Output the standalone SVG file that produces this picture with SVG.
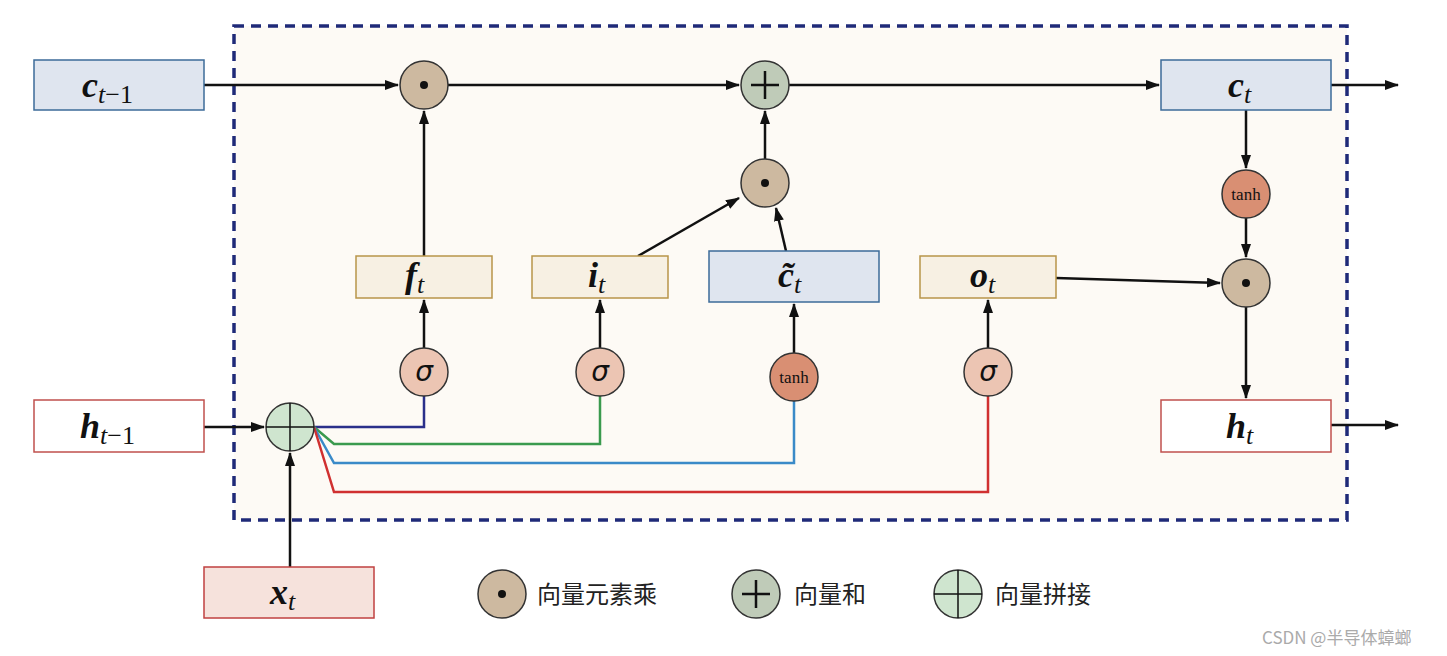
<svg xmlns="http://www.w3.org/2000/svg" width="1447" height="656" viewBox="0 0 1447 656">
<style>
.b{stroke-width:1.5}
.ln{stroke:#111;stroke-width:2.5;fill:none}
.c{stroke:#333;stroke-width:1.5}
.m{font-family:"Liberation Serif",serif;font-weight:bold;font-style:italic;font-size:36px;fill:#111}
.s{font-family:"Liberation Serif",serif;font-style:italic;font-size:26px;font-weight:normal}
.u{font-style:normal}
.t{font-family:"Liberation Serif",serif;font-size:17px;fill:#111}
.cn{font-family:"Noto Sans CJK SC",sans-serif;font-size:24px;fill:#222}
</style>
<defs><marker id="a" markerWidth="14" markerHeight="10" refX="13" refY="5" orient="auto" markerUnits="userSpaceOnUse" viewBox="0 0 14 10"><path d="M0,0L14,5L0,10Z" fill="#111"/></marker></defs>
<rect x="234" y="26" width="1113" height="494" fill="#fdfaf5" stroke="#1f2a78" stroke-width="3.5" stroke-dasharray="10,7"/>
<g id="connectors">
<path class="ln" d="M204,85H398" marker-end="url(#a)"/>
<path class="ln" d="M448,85H739" marker-end="url(#a)"/>
<path class="ln" d="M789,85H1159" marker-end="url(#a)"/>
<path class="ln" d="M1331,85H1398" marker-end="url(#a)"/>
<path class="ln" d="M1331,425H1398" marker-end="url(#a)"/>
<path class="ln" d="M424,256V111" marker-end="url(#a)"/>
<path class="ln" d="M765,159V111" marker-end="url(#a)"/>
<path class="ln" d="M638,256L739,198" marker-end="url(#a)"/>
<path class="ln" d="M786,251L776,208" marker-end="url(#a)"/>
<path class="ln" d="M1056,278L1220,283" marker-end="url(#a)"/>
<path class="ln" d="M1246,110V168" marker-end="url(#a)"/>
<path class="ln" d="M1246,218V257" marker-end="url(#a)"/>
<path class="ln" d="M1246,307V398" marker-end="url(#a)"/>
<path class="ln" d="M424,348V300" marker-end="url(#a)"/>
<path class="ln" d="M600,348V300" marker-end="url(#a)"/>
<path class="ln" d="M794,353V304" marker-end="url(#a)"/>
<path class="ln" d="M988,348V300" marker-end="url(#a)"/>
<path class="ln" d="M204,427H264" marker-end="url(#a)"/>
<path class="ln" d="M290,567V453" marker-end="url(#a)"/>
<path d="M314,427H424V396" fill="none" stroke="#2a2f8a" stroke-width="2.5"/>
<path d="M314,427L334,444H600V396" fill="none" stroke="#3a9a4e" stroke-width="2.5"/>
<path d="M314,427L334,463H794V401" fill="none" stroke="#3a8ac8" stroke-width="2.5"/>
<path d="M314,427L334,492H988V396" fill="none" stroke="#d03030" stroke-width="2.5"/>
</g>
<g id="c_prev"><rect class="b" x="34" y="60" width="170" height="50" fill="#dfe5ef" stroke="#3c6b99"/><text class="m" x="82" y="97" font-style="normal">c<tspan class="s" dy="6">t<tspan class="u">−1</tspan></tspan></text></g>
<g id="h_prev"><rect class="b" x="34" y="400" width="170" height="52" fill="#fff" stroke="#c0504d"/><text class="m" x="80" y="438">h<tspan class="s" dy="6">t<tspan class="u">−1</tspan></tspan></text></g>
<g id="x_t"><rect class="b" x="204" y="567" width="170" height="51" fill="#f6e2dc" stroke="#c04040"/><text class="m" x="270" y="604">x<tspan class="s" dy="6">t</tspan></text></g>
<g id="c_t"><rect class="b" x="1161" y="60" width="170" height="50" fill="#dfe5ef" stroke="#3c6b99"/><text class="m" x="1228" y="97" font-style="normal">c<tspan class="s" dy="6">t</tspan></text></g>
<g id="h_t"><rect class="b" x="1161" y="400" width="170" height="52" fill="#fff" stroke="#c0504d"/><text class="m" x="1226" y="438">h<tspan class="s" dy="6">t</tspan></text></g>
<g id="f_t"><rect class="b" x="356" y="256" width="136" height="42" fill="#f7f0e3" stroke="#b8954a"/><text class="m" x="405" y="287">f<tspan class="s" dy="6">t</tspan></text></g>
<g id="i_t"><rect class="b" x="532" y="256" width="136" height="42" fill="#f7f0e3" stroke="#b8954a"/><text class="m" x="588" y="287">i<tspan class="s" dy="6">t</tspan></text></g>
<g id="ctilde"><rect class="b" x="709" y="251" width="170" height="51" fill="#dfe5ef" stroke="#3c6b99"/><text class="m" x="778" y="287" font-style="normal">c̃<tspan class="s" dy="6">t</tspan></text></g>
<g id="o_t"><rect class="b" x="920" y="256" width="136" height="42" fill="#f7f0e3" stroke="#b8954a"/><text class="m" x="970" y="287" font-style="normal">o<tspan class="s" dy="6">t</tspan></text></g>
<g id="mul1"><circle class="c" cx="424" cy="85" r="24" fill="#cdb9a0"/><circle cx="424" cy="85" r="4" fill="#111"/></g>
<g id="plus"><circle class="c" cx="765" cy="85" r="24" fill="#bfcbb8"/><path d="M751,85H779M765,71V99" stroke="#111" stroke-width="2.5"/></g>
<g id="mul2"><circle class="c" cx="765" cy="183" r="24" fill="#cdb9a0"/><circle cx="765" cy="183" r="4" fill="#111"/></g>
<g id="mul3"><circle class="c" cx="1246" cy="283" r="24" fill="#cdb9a0"/><circle cx="1246" cy="283" r="4" fill="#111"/></g>
<g id="tanh2"><circle class="c" cx="1246" cy="194" r="24" fill="#d98f73"/><text class="t" x="1246" y="200" text-anchor="middle">tanh</text></g>
<g id="concat"><circle class="c" cx="290" cy="427" r="24" fill="#cfe5cf"/><path d="M266,427H314M290,403V451" stroke="#111" stroke-width="1.5"/></g>
<g id="sig_f"><circle class="c" cx="424" cy="372" r="24" fill="#ecc5b3"/><text x="424" y="381" text-anchor="middle" font-family="DejaVu Sans,sans-serif" font-style="italic" font-size="28" fill="#111">σ</text></g>
<g id="sig_i"><circle class="c" cx="600" cy="372" r="24" fill="#ecc5b3"/><text x="600" y="381" text-anchor="middle" font-family="DejaVu Sans,sans-serif" font-style="italic" font-size="28" fill="#111">σ</text></g>
<g id="tanh1"><circle class="c" cx="794" cy="377" r="24" fill="#d98f73"/><text class="t" x="794" y="383" text-anchor="middle">tanh</text></g>
<g id="sig_o"><circle class="c" cx="988" cy="372" r="24" fill="#ecc5b3"/><text x="988" y="381" text-anchor="middle" font-family="DejaVu Sans,sans-serif" font-style="italic" font-size="28" fill="#111">σ</text></g>
<g id="legend">
<circle class="c" cx="502" cy="594" r="24" fill="#cdb9a0"/><circle cx="502" cy="594" r="4" fill="#111"/><text class="cn" x="537" y="603">向量元素乘</text>
<circle class="c" cx="756" cy="594" r="24" fill="#bfcbb8"/><path d="M742,594H770M756,580V608" stroke="#111" stroke-width="2.5"/><text class="cn" x="794" y="603">向量和</text>
<circle class="c" cx="958" cy="594" r="24" fill="#cfe5cf"/><path d="M934,594H982M958,570V618" stroke="#111" stroke-width="1.5"/><text class="cn" x="995" y="603">向量拼接</text>
</g>
<text x="1262" y="644" font-family="Noto Sans CJK SC,sans-serif" font-size="17" fill="#aaa">CSDN @半导体蟑螂</text>
</svg>
